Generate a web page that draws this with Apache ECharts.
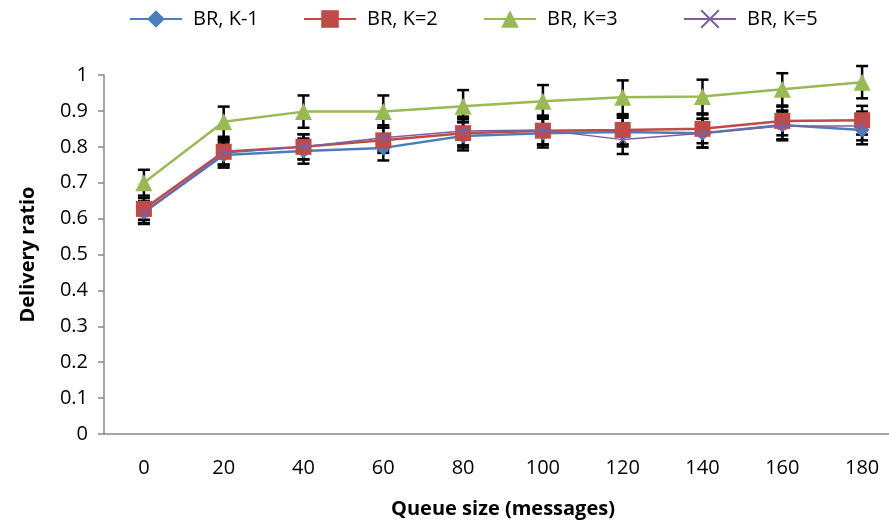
<!DOCTYPE html>
<html lang="en">
<head>
    <meta charset="UTF-8" />
    <title>Delivery ratio</title>
    <script src="https://cdn.jsdelivr.net/npm/echarts@6/dist/echarts.min.js"></script>
    <style>
        html, body { margin: 0; padding: 0; background: #fff; overflow: hidden; }
    </style>
</head>
<body>
    <div id="main" style="width: 889px; height: 522px"></div>
    <script>
        // 数据
        var queueSize = ["0", "20", "40", "60", "80", "100", "120", "140", "160", "180"];
        var seriesNames = ["BR, K-1", "BR, K=2", "BR, K=3", "BR, K=5"];

        var k1 = [0.618, 0.777, 0.788, 0.797, 0.830, 0.838, 0.841, 0.838, 0.861, 0.847];
        var k2 = [0.627, 0.786, 0.800, 0.818, 0.838, 0.845, 0.847, 0.850, 0.872, 0.874];
        var k3 = [0.700, 0.870, 0.898, 0.898, 0.913, 0.927, 0.938, 0.940, 0.960, 0.980];
        var k5 = [0.615, 0.783, 0.800, 0.825, 0.844, 0.847, 0.820, 0.838, 0.858, 0.858];

        // 误差 (±)
        var k1Err = [0.030, 0.035, 0.035, 0.035, 0.040, 0.040, 0.040, 0.040, 0.040, 0.040];
        var k2Err = [0.030, 0.035, 0.035, 0.035, 0.040, 0.040, 0.040, 0.040, 0.040, 0.040];
        var k3Err = [0.036, 0.042, 0.045, 0.045, 0.045, 0.045, 0.047, 0.047, 0.045, 0.045];
        var k5Err = [0.030, 0.035, 0.035, 0.035, 0.040, 0.040, 0.040, 0.040, 0.040, 0.040];

        var colors = ["#4A7EBB", "#BE4B48", "#98B954", "#7D60A0"];
        var font = "'Open Sans', 'Noto Sans', sans-serif";

        function errData(vals, errs) {
            return vals.map(function (v, i) {
                return [i, v - errs[i], v + errs[i]];
            });
        }

        function renderErr(params, api) {
            var x = api.value(0);
            var lo = api.coord([x, api.value(1)]);
            var hi = api.coord([x, api.value(2)]);
            var w = 6;
            var style = { stroke: "#000", lineWidth: 2.5 };
            return {
                type: "group",
                children: [
                    { type: "line", shape: { x1: lo[0], y1: lo[1], x2: hi[0], y2: hi[1] }, style: style },
                    { type: "line", shape: { x1: lo[0] - w, y1: lo[1], x2: lo[0] + w, y2: lo[1] }, style: style },
                    { type: "line", shape: { x1: hi[0] - w, y1: hi[1], x2: hi[0] + w, y2: hi[1] }, style: style }
                ]
            };
        }

        function errSeries(vals, errs) {
            return {
                type: "custom",
                renderItem: renderErr,
                data: errData(vals, errs),
                z: 1,
                silent: true,
                clip: false
            };
        }

        // 每个图例单独摆放，间距和原图一样
        var legendLeft = [128, 302, 482, 682];
        function makeLegend(name, i) {
            return {
                data: [name],
                left: legendLeft[i] - 4,
                top: 4,
                itemWidth: 52,
                itemHeight: 22,
                textStyle: { fontSize: 20, color: "#000", padding: [0, 0, 0, 6] }
            };
        }

        var crossPath = "path://M0,0L10,10M10,0L0,10";

        var chart = echarts.init(document.getElementById("main"));

        var option = {
            animation: false,
            color: colors,
            textStyle: { fontFamily: font },
            legend: seriesNames.map(makeLegend),
            // 绘图区比画布略宽，右端被裁掉，和原图一致
            grid: { left: 104, width: 798, top: 75, height: 359, outerBoundsMode: "none" },
            xAxis: {
                type: "category",
                data: queueSize,
                boundaryGap: true,
                name: "Queue size (messages)",
                nameLocation: "middle",
                nameGap: 65,
                nameTextStyle: { fontSize: 20, fontWeight: "bold", color: "#000" },
                axisLine: { lineStyle: { color: "#868686", width: 1.5 } },
                axisTick: { show: false },
                axisLabel: { fontSize: 20, color: "#000", margin: 24 },
                splitLine: { show: false }
            },
            yAxis: {
                type: "value",
                min: 0,
                max: 1,
                interval: 0.1,
                name: "Delivery ratio",
                nameLocation: "middle",
                nameGap: 66,
                nameTextStyle: { fontSize: 20, fontWeight: "bold", color: "#000" },
                axisLine: { show: true, lineStyle: { color: "#868686", width: 1.5 } },
                axisTick: { show: true, length: 6, lineStyle: { color: "#868686", width: 1.5 } },
                axisLabel: { fontSize: 20, color: "#000", margin: 16 },
                splitLine: { show: false }
            },
            series: [
                errSeries(k1, k1Err),
                errSeries(k2, k2Err),
                errSeries(k3, k3Err),
                errSeries(k5, k5Err),
                {
                    name: seriesNames[0], type: "line", data: k1, z: 3,
                    symbol: "diamond", symbolSize: 15,
                    lineStyle: { width: 2.5 }
                },
                {
                    name: seriesNames[1], type: "line", data: k2, z: 4,
                    symbol: "rect", symbolSize: 16,
                    lineStyle: { width: 2.5 }
                },
                {
                    name: seriesNames[2], type: "line", data: k3, z: 5,
                    symbol: "triangle", symbolSize: 17,
                    lineStyle: { width: 2.5 }
                },
                {
                    name: seriesNames[3], type: "line", data: k5, z: 6,
                    symbol: crossPath, symbolSize: 8,
                    itemStyle: { borderColor: colors[3], borderWidth: 1.5 },
                    lineStyle: { width: 1.5 }
                }
            ]
        };

        chart.setOption(option);
    </script>
</body>
</html>
